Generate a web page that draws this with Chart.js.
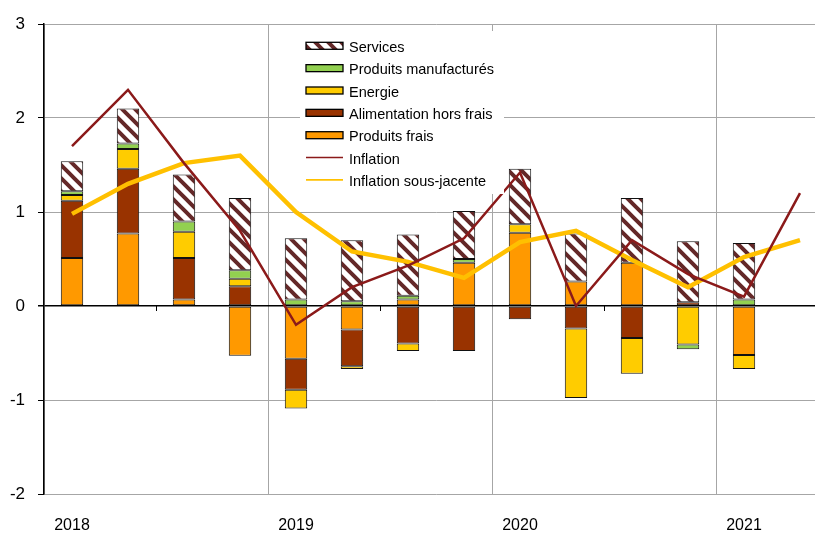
<!DOCTYPE html>
<html><head><meta charset="utf-8">
<script src="https://cdn.jsdelivr.net/npm/chart.js@4.4.1/dist/chart.umd.min.js"></script>
<style>
html,body{margin:0;padding:0;background:#fff;overflow:hidden;}
#wrap{position:relative;width:828px;height:535px;}
</style></head><body>
<div id="wrap"><canvas id="c" width="828" height="535"></canvas></div>
<script>
// Quarterly categories 2018 Q1 .. 2021 Q2 (tick labels only on Q1)
const categories = ['2018','','','','2019','','','','2020','','','','2021',''];
// Contributions (points)
const produitsFrais   = [0.51, 0.77, 0.07, -0.53, -0.56, -0.25, 0.07, 0.46, 0.78, 0.26, 0.46, 0.00, -0.52, null];
const alimentation    = [0.61, 0.69, 0.44, 0.21, -0.33, -0.39, -0.40, -0.48, -0.14, -0.24, -0.34, 0.04, 0.00, null];
const energie         = [0.06, 0.21, 0.28, 0.08, -0.20, -0.03, -0.08, 0.00, 0.09, -0.74, -0.38, -0.41, -0.15, null];
const manufactures    = [0.04, 0.06, 0.11, 0.09, 0.07, 0.05, 0.04, 0.04, 0.00, 0.00, 0.00, -0.05, 0.07, null];
const services        = [0.32, 0.37, 0.50, 0.77, 0.65, 0.65, 0.65, 0.51, 0.59, 0.51, 0.69, 0.65, 0.60, null];
// Lines
const inflation       = [1.70, 2.30, 1.52, 0.80, -0.20, 0.20, 0.43, 0.72, 1.42, 0.00, 0.70, 0.34, 0.10, 1.20];
const inflationSousJacente = [0.98, 1.30, 1.52, 1.60, 1.00, 0.58, 0.47, 0.30, 0.68, 0.80, 0.49, 0.20, 0.52, 0.70];
const yTicks = [-2, -1, 0, 1, 2, 3];

const FONT = '"Liberation Sans", Arial, sans-serif';

function makeHatch(){
  const s = 13;
  const c = document.createElement('canvas'); c.width = s; c.height = s;
  const x = c.getContext('2d');
  x.fillStyle = '#fff'; x.fillRect(0,0,s,s);
  x.strokeStyle = '#642828'; x.lineWidth = 4;
  x.beginPath();
  for (const k of [-s, 0, s]) { x.moveTo(-2, k-2); x.lineTo(s+2, k+s+2); }
  x.stroke();
  return document.getElementById('c').getContext('2d').createPattern(c, 'repeat');
}
const hatch = makeHatch();

const COLORS = {
  frais: '#FF9900', alim: '#993300', energie: '#FFCC00', manuf: '#92D050',
  inflation: '#8B1A1A', core: '#FFC000'
};

const barCommon = { type: 'bar', stack: 'contrib', order: 2, borderColor: '#111', borderWidth: 1,
  barPercentage: 0.4, categoryPercentage: 1.0, borderSkipped: false };

const legendPlugin = {
  id: 'customLegend',
  afterDatasetsDraw(chart) {
    const ctx = chart.ctx;
    const items = [
      { ds: 6, kind: 'box' }, { ds: 5, kind: 'box' }, { ds: 4, kind: 'box' },
      { ds: 3, kind: 'box' }, { ds: 2, kind: 'box' },
      { ds: 0, kind: 'line' }, { ds: 1, kind: 'line' }
    ];
    ctx.save();
    ctx.fillStyle = '#fff';
    ctx.fillRect(300, 31, 204, 163);
    ctx.font = '14.5px ' + FONT;
    ctx.textBaseline = 'middle';
    items.forEach((it, i) => {
      const d = chart.data.datasets[it.ds];
      const yc = 45.8 + i * 22.35;
      if (it.kind === 'box') {
        ctx.fillStyle = d.backgroundColor;
        ctx.fillRect(306, yc - 3.5, 37, 7);
        ctx.strokeStyle = '#000'; ctx.lineWidth = 1.3;
        ctx.strokeRect(306, yc - 3.5, 37, 7);
      } else {
        ctx.strokeStyle = d.borderColor;
        ctx.lineWidth = 1.6;
        ctx.beginPath(); ctx.moveTo(306, yc); ctx.lineTo(343, yc); ctx.stroke();
      }
      ctx.fillStyle = '#000';
      ctx.fillText(d.label, 349, yc + 2);
    });
    ctx.restore();
  }
};

const minorTicks = {
  id: 'minorTicks',
  afterDatasetsDraw(chart) {
    const ctx = chart.ctx, xs = chart.scales.x, ys = chart.scales.y;
    const y0 = ys.getPixelForValue(0);
    ctx.save();
    ctx.strokeStyle = '#000'; ctx.lineWidth = 1;
    for (let k = 2; k < categories.length; k += 4) {
      const px = Math.round((xs.getPixelForValue(k - 1) + xs.getPixelForValue(k)) / 2) + 0.5;
      ctx.beginPath(); ctx.moveTo(px, y0); ctx.lineTo(px, y0 + 5); ctx.stroke();
    }
    ctx.restore();
  }
};

new Chart(document.getElementById('c'), {
  data: {
    labels: categories,
    datasets: [
      { type: 'line', label: 'Inflation', data: inflation, borderColor: COLORS.inflation,
        borderWidth: 2.5, pointRadius: 0, tension: 0, fill: false, order: 0, stack: 'l1' },
      { type: 'line', label: 'Inflation sous-jacente', data: inflationSousJacente, borderColor: COLORS.core,
        borderWidth: 4.5, pointRadius: 0, tension: 0, fill: false, order: 1, stack: 'l2' },
      Object.assign({ label: 'Produits frais', data: produitsFrais, backgroundColor: COLORS.frais }, barCommon),
      Object.assign({ label: 'Alimentation hors frais', data: alimentation, backgroundColor: COLORS.alim }, barCommon),
      Object.assign({ label: 'Energie', data: energie, backgroundColor: COLORS.energie }, barCommon),
      Object.assign({ label: 'Produits manufacturés', data: manufactures, backgroundColor: COLORS.manuf }, barCommon),
      Object.assign({ label: 'Services', data: services, backgroundColor: hatch }, barCommon)
    ]
  },
  options: {
    responsive: false,
    animation: false,
    devicePixelRatio: 1,
    layout: { padding: { top: 24, left: 0, right: 0, bottom: 0 } },
    plugins: { legend: { display: false }, tooltip: { enabled: false } },
    scales: {
      x: {
        type: 'category', stacked: true, offset: true,
        grid: {
          offset: true, drawTicks: false, lineWidth: 1,
          color: c => (c.index % 4 === 0) ? '#A6A6A6' : 'rgba(0,0,0,0)'
        },
        border: { display: false },
        ticks: { autoSkip: false, maxRotation: 0, minRotation: 0, padding: 22, color: '#000',
          font: { family: FONT, size: 16 } },
        afterFit: s => { s.height = 41; }
      },
      y: {
        min: -2, max: 3, stacked: true,
        afterBuildTicks: s => { s.ticks = yTicks.map(v => ({ value: v })); },
        grid: {
          color: c => (c.tick && c.tick.value === 0) ? '#000' : '#A6A6A6',
          lineWidth: c => (c.tick && c.tick.value === 0) ? 1.5 : 1,
          tickColor: '#000', tickLength: 6
        },
        border: { color: '#000', width: 1.5 },
        ticks: { padding: 13, color: '#000', font: { family: FONT, size: 17 } },
        afterFit: s => { s.width = 44; }
      }
    }
  },
  plugins: [legendPlugin, minorTicks]
});
</script>
</body></html>
